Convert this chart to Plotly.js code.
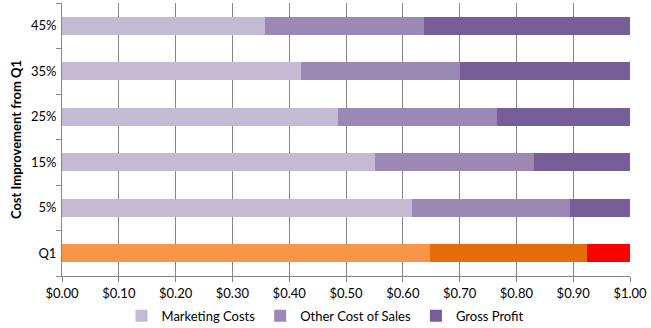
<!DOCTYPE html>
<html>
<head>
<meta charset="utf-8">
<script src="https://cdn.plot.ly/plotly-3.0.1.min.js"></script>
<style>html,body{margin:0;padding:0;background:#fff;}#chart{width:651px;height:328px;}</style>
</head>
<body>
<div id="chart"></div>
<script>
var categories = ["Q1", "5%", "15%", "25%", "35%", "45%"];
var marketingCosts = [0.648, 0.616, 0.551, 0.486, 0.420, 0.357];
var otherCostOfSales = [0.276, 0.278, 0.280, 0.280, 0.280, 0.280];
var grossProfit = [0.076, 0.106, 0.169, 0.234, 0.300, 0.363];
var seriesNames = ["Marketing Costs", "Other Cost of Sales", "Gross Profit"];
var purpleColors = ["#C4BAD4", "#9C88B4", "#775E98"];
var q1Colors = ["#F79646", "#E46C0A", "#FF0000"];
var xTickVals = [0, 0.1, 0.2, 0.3, 0.4, 0.5, 0.6, 0.7, 0.8, 0.9, 1.0];
var xTickText = ["$0.00", "$0.10", "$0.20", "$0.30", "$0.40", "$0.50", "$0.60", "$0.70", "$0.80", "$0.90", "$1.00"];

var series = [marketingCosts, otherCostOfSales, grossProfit];
var traces = [];
// Purple rows (improvement scenarios)
series.forEach(function (vals, i) {
  traces.push({
    type: "bar", orientation: "h",
    y: categories.slice(1), x: vals.slice(1),
    name: seriesNames[i],
    marker: {color: purpleColors[i], line: {width: 0}},
    hoverinfo: "x+y+name"
  });
});
// Q1 row (actual) in orange/red
series.forEach(function (vals, i) {
  traces.push({
    type: "bar", orientation: "h",
    y: categories.slice(0, 1), x: vals.slice(0, 1),
    name: seriesNames[i] + " (Q1)",
    showlegend: false,
    marker: {color: q1Colors[i], line: {width: 0}},
    hoverinfo: "x+y+name"
  });
});

var font = "Lato, 'Open Sans', sans-serif";
var layout = {
  width: 651, height: 328,
  margin: {l: 62, r: 21, t: 3, b: 52, autoexpand: false},
  barmode: "stack",
  bargap: 0.61,
  paper_bgcolor: "#ffffff", plot_bgcolor: "#ffffff",
  font: {family: font, size: 13, color: "#000000"},
  showlegend: true,
  legend: {
    orientation: "h", x: 0.5, xref: "container", xanchor: "center",
    y: 0.037, yref: "container", yanchor: "middle", traceorder: "normal",
    font: {family: font, size: 13, color: "#000"},
    itemwidth: 30, tracegroupgap: 0
  },
  xaxis: {
    range: [0, 1.0], tickvals: xTickVals, ticktext: xTickText,
    showgrid: true, gridcolor: "#868686", gridwidth: 1,
    showline: true, linecolor: "#868686", linewidth: 1,
    ticks: "outside", ticklen: 5, tickcolor: "#868686",
    zeroline: false, fixedrange: true,
    tickfont: {family: font, size: 13}
  },
  yaxis: {
    type: "category", categoryorder: "array", categoryarray: categories,
    tickson: "boundaries",
    showgrid: false, showline: true, linecolor: "#868686", linewidth: 1,
    ticks: "outside", ticklen: 5, tickcolor: "#868686",
    ticklabelstandoff: 2,
    title: {text: "<b>Cost Improvement from Q1</b>", font: {family: font, size: 13, color: "#000"}, standoff: 6},
    tickfont: {family: font, size: 13}
  }
};
Plotly.newPlot("chart", traces, layout, {displayModeBar: false, staticPlot: true});
</script>
</body>
</html>
